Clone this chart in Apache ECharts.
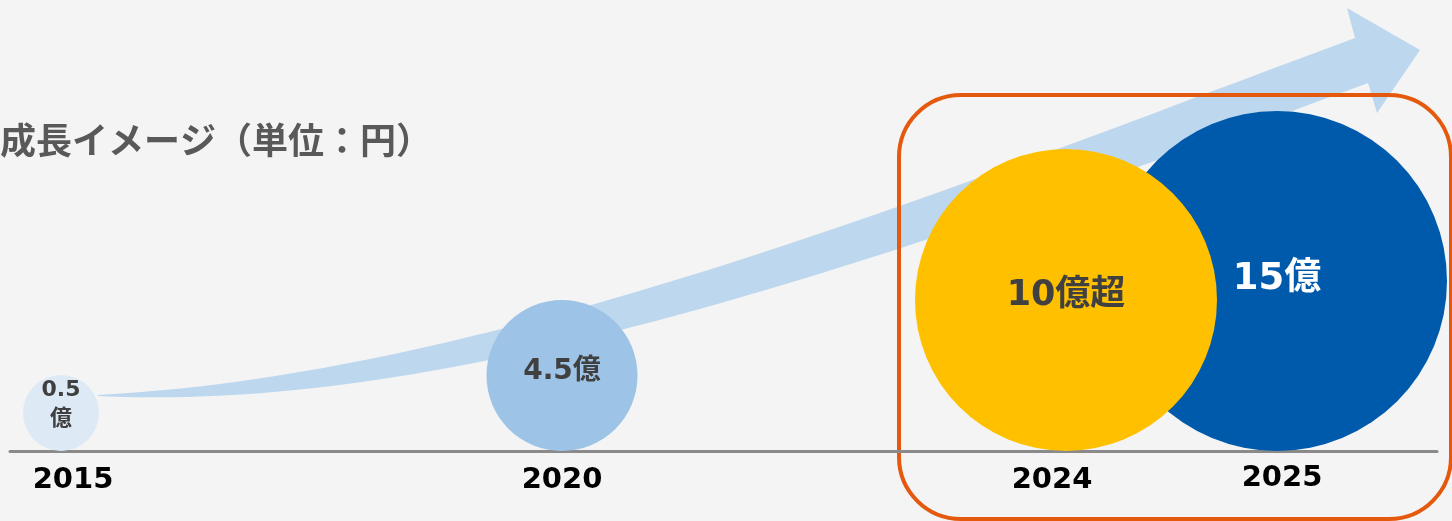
<!DOCTYPE html>
<html>
<head>
<meta charset="utf-8">
<script src="https://cdn.jsdelivr.net/npm/echarts@6/dist/echarts.min.js"></script>
<style>
html,body{margin:0;padding:0;background:#f3f4f3;}
#c{width:1452px;height:521px;}
</style>
</head>
<body>
<div id="c"></div>
<script>
// ---- data ----
const years = ['2015', '2020', '2024', '2025'];
const values = [0.5, 4.5, 10, 15];            // 億円
const valueLabels = ['0.5\n億', '4.5億', '10億超', '15億'];
const titleText = '成長イメージ（単位：円）';

// ---- layout (positions / sizes / styles) ----
const slotX = [61, 562, 1066, 1277];          // bubble centre on the x axis
const yearLabelX = [73, 562, 1052, 1282];
const yearLabelOffset = [29, 29, 29, 27];
const diameters = [76, 151, 302, 340];
const bubbleColors = ['#ddeaf6', '#9dc3e6', '#ffc000', '#005aab'];
const labelSizes = [22, 28, 35, 37];
const labelColors = ['#404040', '#404040', '#404040', '#ffffff'];
const labelOffsetY = [-8, -4, -4, -2];

const latin = '"DejaVu Sans", "Noto Sans CJK JP", sans-serif';

// decorative growth arrow (cubic bezier edges sampled into a polygon)
function bez(p0, p1, p2, p3, n) {
  const pts = [];
  for (let k = 0; k <= n; k++) {
    const t = k / n, u = 1 - t;
    pts.push([
      u*u*u*p0[0] + 3*u*u*t*p1[0] + 3*u*t*t*p2[0] + t*t*t*p3[0],
      u*u*u*p0[1] + 3*u*u*t*p1[1] + 3*u*t*t*p2[1] + t*t*t*p3[1]
    ]);
  }
  return pts;
}
const arrowPts = []
  .concat(bez([98, 395], [498, 374], [955, 186], [1355, 38], 60))
  .concat([[1347, 8], [1420, 50], [1377, 113]])
  .concat(bez([1368, 83], [868, 268], [448, 413], [98, 396], 60));

const bubbleData = years.map((y, i) => ({
  name: y,
  value: [slotX[i], 0, values[i]],
  symbolSize: diameters[i],
  symbolOffset: [0, -diameters[i] / 2],
  itemStyle: { color: bubbleColors[i], opacity: 1 },
  label: {
    formatter: valueLabels[i],
    fontSize: labelSizes[i],
    color: labelColors[i],
    offset: [0, labelOffsetY[i]],
    lineHeight: i === 0 ? 29 : labelSizes[i] + 4
  }
})).sort((a, b) => b.symbolSize - a.symbolSize);

const yearData = years.map((y, i) => ({
  name: y,
  value: [yearLabelX[i], 0],
  label: { formatter: y, offset: [0, yearLabelOffset[i]] }
}));

const chart = echarts.init(document.getElementById('c'), null, { renderer: 'canvas' });
chart.setOption({
  backgroundColor: '#f3f4f3',
  animation: false,
  title: {
    text: titleText,
    left: -5,
    top: 117,
    textStyle: { fontSize: 36, fontWeight: 'bold', color: '#595959', fontFamily: '"Noto Sans CJK JP", sans-serif' }
  },
  grid: { left: 10, right: 15, top: 0, bottom: 70 },
  xAxis: {
    type: 'value', min: 10, max: 1437,
    axisLine: { show: true, onZero: false, lineStyle: { color: '#8a8a8a', width: 3 } },
    axisTick: { show: false }, axisLabel: { show: false }, splitLine: { show: false }
  },
  yAxis: {
    type: 'value', min: 0, max: 451, show: false, splitLine: { show: false }
  },
  graphic: [
    {
      type: 'polygon', z: -10,
      shape: { points: arrowPts },
      style: { fill: '#bdd7ee' },
      silent: true
    },
    {
      type: 'rect', z: -5,
      shape: { x: 899, y: 95, width: 552, height: 424, r: 62 },
      style: { fill: 'transparent', stroke: '#e4590d', lineWidth: 4 },
      silent: true
    }
  ],
  series: [
    {
      type: 'scatter', silent: true, clip: false, z: 3,
      data: bubbleData,
      itemStyle: { opacity: 1 },
      label: { show: true, position: 'inside', fontWeight: 'bold', fontFamily: latin },
      emphasis: { disabled: true }
    },
    {
      type: 'scatter', silent: true, clip: false, z: 4,
      symbolSize: 1,
      itemStyle: { color: 'rgba(0,0,0,0)', opacity: 1 },
      data: yearData,
      label: { show: true, position: 'inside', fontSize: 29, fontWeight: 'bold', color: '#000000', fontFamily: latin },
      emphasis: { disabled: true }
    }
  ]
});
</script>
</body>
</html>
